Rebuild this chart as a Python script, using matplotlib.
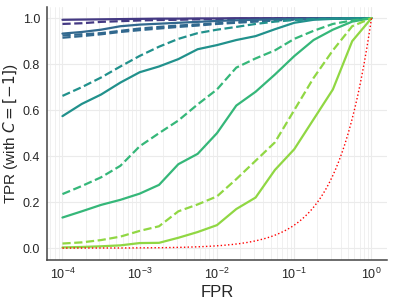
import numpy as np
import matplotlib
matplotlib.use("Agg")
import matplotlib.pyplot as plt
import seaborn as sns

log_fpr = [-4, -3.75, -3.5, -3.25, -3, -2.75, -2.5, -2.25, -2, -1.75, -1.5, -1.25, -1, -0.75, -0.5, -0.25, 0]

purple_solid  = [0.993, 0.994, 0.995, 0.996, 0.997, 0.998, 0.998, 0.999, 0.999, 1, 1, 1, 1, 1, 1, 1, 1]
purple_dashed = [0.975, 0.978, 0.984, 0.987, 0.99, 0.992, 0.993, 0.995, 0.996, 0.997, 0.998, 0.999, 0.999, 1, 1, 1, 1]
blue_solid    = [0.933, 0.94, 0.95, 0.965, 0.972, 0.976, 0.98, 0.984, 0.988, 0.991, 0.993, 0.995, 0.997, 0.998, 0.999, 1, 1]
blue_dashed   = [0.925, 0.93, 0.935, 0.945, 0.955, 0.962, 0.968, 0.973, 0.978, 0.983, 0.988, 0.992, 0.995, 0.997, 0.999, 1, 1]
blue_dashed2  = [0.915, 0.922, 0.93, 0.94, 0.948, 0.955, 0.962, 0.968, 0.975, 0.98, 0.985, 0.99, 0.994, 0.997, 0.999, 1, 1]
teal_solid    = [0.574, 0.627, 0.668, 0.72, 0.765, 0.79, 0.822, 0.865, 0.883, 0.905, 0.922, 0.952, 0.98, 0.993, 0.997, 0.999, 1]
teal_dashed   = [0.662, 0.70, 0.742, 0.79, 0.836, 0.876, 0.91, 0.935, 0.95, 0.962, 0.975, 0.985, 0.992, 0.996, 0.998, 0.999, 1]
green_solid   = [0.133, 0.16, 0.188, 0.21, 0.237, 0.275, 0.365, 0.41, 0.50, 0.62, 0.68, 0.755, 0.835, 0.905, 0.95, 0.985, 1]
green_dashed  = [0.235, 0.27, 0.308, 0.358, 0.443, 0.50, 0.555, 0.625, 0.69, 0.785, 0.825, 0.86, 0.91, 0.945, 0.975, 0.99, 1]
lime_solid    = [0.003, 0.005, 0.008, 0.012, 0.022, 0.023, 0.045, 0.07, 0.10, 0.17, 0.22, 0.34, 0.43, 0.56, 0.69, 0.90, 1]
lime_dashed   = [0.02, 0.025, 0.035, 0.05, 0.075, 0.095, 0.16, 0.19, 0.225, 0.30, 0.38, 0.46, 0.60, 0.74, 0.86, 0.965, 1]

sns.set_theme(style="whitegrid")
plt.rcParams['font.family'] = ['Liberation Sans', 'DejaVu Sans']

fig = plt.figure(figsize=(3.93, 3.04), dpi=100)
ax = fig.add_axes([0.1196, 0.146, 0.865, 0.832])

pal = sns.color_palette("viridis", 5)
fpr = 10.0 ** np.array(log_fpr)
lw = 1.6

series = [
    (purple_solid, pal[0], '-'), (purple_dashed, pal[0], '--'),
    (blue_solid, pal[1], '-'), (blue_dashed, pal[1], '--'), (blue_dashed2, pal[1], '--'),
    (teal_solid, pal[2], '-'), (teal_dashed, pal[2], '--'),
    (green_solid, pal[3], '-'), (green_dashed, pal[3], '--'),
    (lime_solid, pal[4], '-'), (lime_dashed, pal[4], '--'),
]
for vals, c, ls in series:
    ax.plot(fpr, vals, color=c, ls=ls, lw=lw)

rnd = np.logspace(-4, 0, 200)
ax.plot(rnd, rnd, color='red', ls=':', lw=1.0)

ax.set_xscale('log')
ax.set_xlim(10**-4.2, 10**0.2)
ax.set_ylim(-0.05, 1.05)
ax.set_yticks([0.0, 0.2, 0.4, 0.6, 0.8, 1.0])
ax.grid(True, which='major', color='#ebebeb', lw=0.8)
ax.grid(True, which='minor', axis='x', color='#eeeeee', lw=0.6)
ax.tick_params(labelsize=9, length=0, pad=5)
ax.set_xlabel('FPR', fontsize=12, labelpad=2)
ax.set_ylabel(r'TPR (with $C = [-1]$)', fontsize=11, labelpad=2)
for s in ['top', 'right']:
    ax.spines[s].set_visible(False)
for s in ['left', 'bottom']:
    ax.spines[s].set_color('#444444')
    ax.spines[s].set_linewidth(1.1)

fig.savefig('out.png', dpi=100)
